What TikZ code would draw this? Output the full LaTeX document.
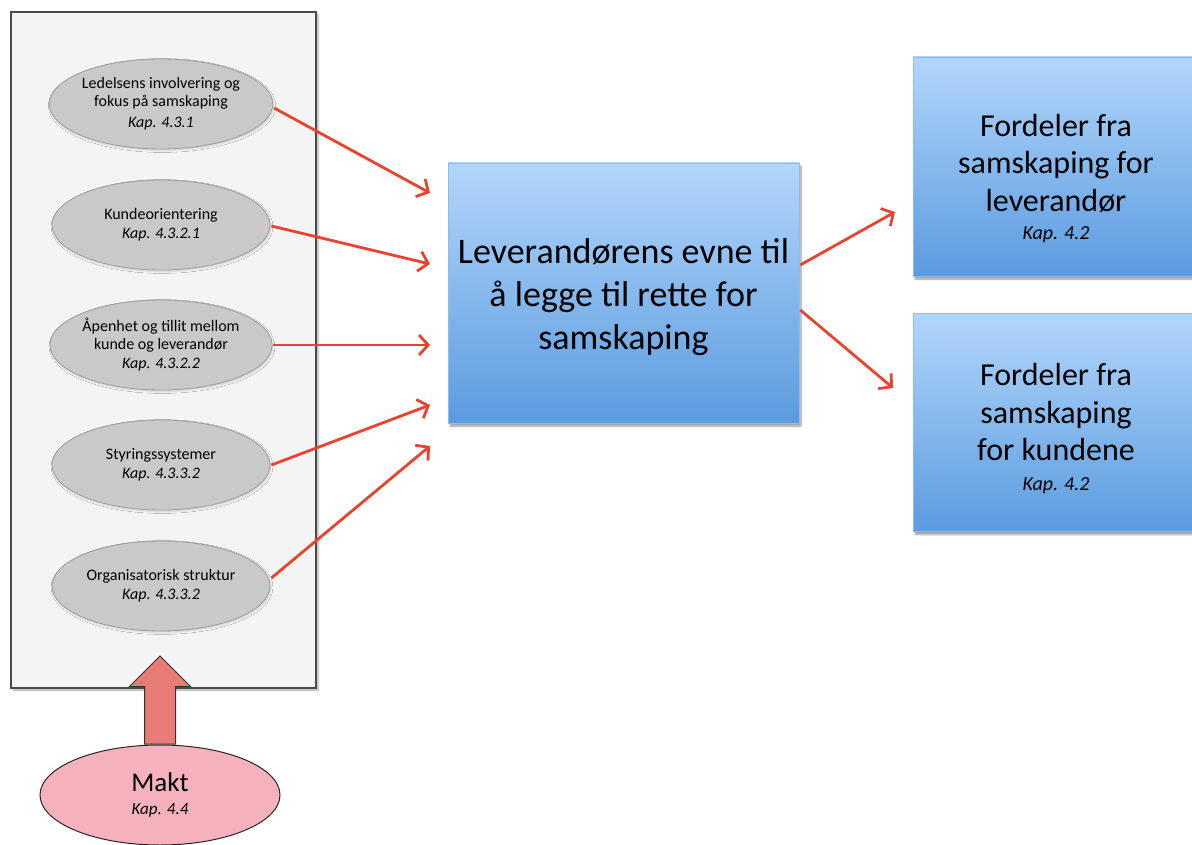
\documentclass[tikz,border=0pt]{standalone}
\usepackage{fontspec}
\setmainfont{Carlito}
\usetikzlibrary{shapes.geometric,shapes.arrows,arrows.meta,shadows.blur,calc}

\definecolor{panelfill}{HTML}{F4F4F4}
\definecolor{panelline}{HTML}{4A4A4A}
\definecolor{ovalfill}{HTML}{C9C9C9}
\definecolor{ovalline}{HTML}{9C9C9C}
\definecolor{linkred}{HTML}{E8432E}
\definecolor{blocktop}{HTML}{B2D6FB}
\definecolor{blockbot}{HTML}{5B9BDF}
\definecolor{blockline}{HTML}{8DBBEA}
\definecolor{maktfill}{HTML}{F5B2BC}
\definecolor{pusharrow}{HTML}{E87B75}

\begin{document}
\begin{tikzpicture}[x=1pt,y=-1pt,
  panel/.style={draw=panelline, line width=1.2pt, fill=panelfill,
    minimum width=305pt, minimum height=676pt, inner sep=0pt,
    blur shadow={shadow xshift=2pt, shadow yshift=-2pt, shadow blur steps=4, shadow opacity=35}},
  factor/.style={ellipse, draw=ovalline, line width=0.8pt, fill=ovalfill,
    minimum width=218pt, minimum height=90pt, inner sep=0pt, align=center,
    font=\fontsize{16}{18}\selectfont,
    blur shadow={shadow xshift=1pt, shadow yshift=-1.5pt, shadow blur steps=4, shadow opacity=15}},
  block/.style={rectangle, draw=blockline, line width=0.6pt,
    top color=blocktop, bottom color=blockbot, inner sep=0pt,
    blur shadow={shadow xshift=2pt, shadow yshift=-3pt, shadow blur steps=5, shadow opacity=40}},
  blocktext/.style={align=center, inner sep=0pt},
  link/.style={draw=linkred, line width=2.8pt,
    -{Straight Barb[length=9pt, width=20pt, line width=2.8pt]}},
  maktoval/.style={ellipse, draw=black!85, line width=1pt, fill=maktfill,
    minimum width=240pt, minimum height=100pt, inner sep=0pt, align=center,
    font=\fontsize{17}{23}\selectfont},
  push/.style={single arrow, draw=black!80, line width=1pt, fill=pusharrow,
    minimum height=88pt, inner xsep=0pt, inner ysep=15pt,
    single arrow head extend=15pt, single arrow tip angle=90,
    single arrow head indent=0pt}
]
\useasboundingbox (0,0) rectangle (1192,845);

% left panel with the five factors
\node[panel] (pn) at (163.5,350) {};

\node[factor] (e1) at (161,104)
  {Ledelsens involvering og\\fokus på samskaping\\[3pt]{\itshape Kap. 4.3.1}};
\node[factor] (e2) at (161,225)
  {Kundeorientering\\[1pt]{\itshape Kap. 4.3.2.1}};
\node[factor] (e3) at (161,345)
  {Åpenhet og tillit mellom\\kunde og leverandør\\[1pt]{\itshape Kap. 4.3.2.2}};
\node[factor] (e4) at (161,465)
  {Styringssystemer\\[1pt]{\itshape Kap. 4.3.3.2}};
\node[factor] (e5) at (161,586)
  {Organisatorisk struktur\\[1pt]{\itshape Kap. 4.3.3.2}};

% central block
\node[block, minimum width=351pt, minimum height=260pt] (c) at (623.5,293) {};
\node[blocktext, font=\fontsize{36}{43}\selectfont] (ct) at ($(c.center)+(0,4)$)
  {Leverandørens evne til\\å legge til rette for\\samskaping};

% outcome blocks
\node[block, minimum width=286pt, minimum height=219pt] (f1) at (1056,166.5) {};
\node[blocktext, font=\fontsize{32}{37.5}\selectfont] (f1t) at ($(f1.center)+(0,12)$)
  {Fordeler fra\\samskaping for\\leverandør\\[-9pt]{\fontsize{20}{24}\itshape Kap. 4.2}};
\node[block, minimum width=286pt, minimum height=218pt] (f2) at (1056,422.5) {};
\node[blocktext, font=\fontsize{32}{37.5}\selectfont] (f2t) at ($(f2.center)+(0,6)$)
  {Fordeler fra\\samskaping\\for kundene\\[-8pt]{\fontsize{20}{24}\itshape Kap. 4.2}};

% power
\node[maktoval] (mk) at (160,795)
  {{\fontsize{27}{28}\selectfont Makt}\\{\itshape Kap. 4.4}};
\node[push, rotate=90, anchor=tail] (pa) at (mk.north) {};

% arrow ends
\coordinate (t1) at (430,193);
\coordinate (t2) at (430,264);
\coordinate (t3) at (430,345);
\coordinate (t4) at (430,405);
\coordinate (t5) at (430,446);
\coordinate (u1) at (895,212);
\coordinate (u2) at (893,388);

\draw[link] ($(e1.east)+(1,4)$) -- (t1);
\draw[link] ($(e2.east)+(1,1)$) -- (t2);
\draw[link] ($(e3.east)+(1,0)$) -- (t3);
\draw[link] ($(e4.east)+(1,0)$) -- (t4);
\draw[link] ($(e5.east)+(1,-8)$) -- (t5);
\draw[link] ($(c.east)+(1,-28)$) -- (u1);
\draw[link] ($(c.east)+(1,17)$) -- (u2);
\end{tikzpicture}
\end{document}
